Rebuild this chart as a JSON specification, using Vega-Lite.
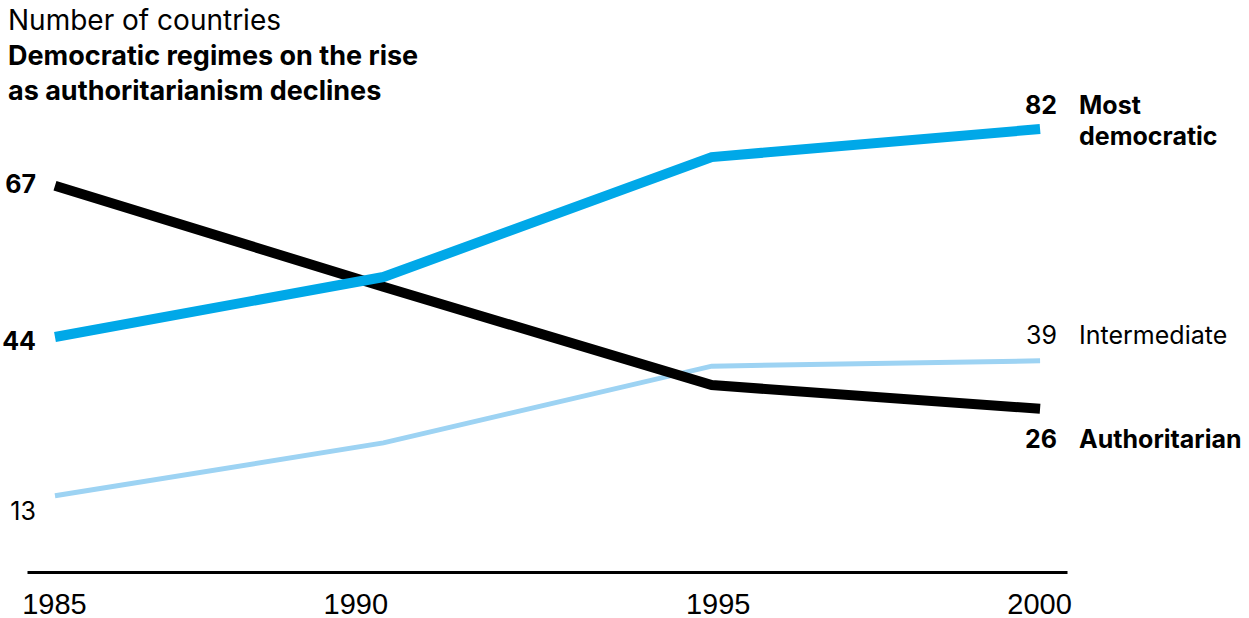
{
  "$schema": "https://vega.github.io/schema/vega-lite/v6.json",
  "width": 1040,
  "height": 470,
  "autosize": {"type": "none"},
  "padding": {"left": 27, "top": 102, "right": 182, "bottom": 46},
  "background": "white",
  "config": {"view": {"stroke": null}, "font": "Inter"},
  "title": {
    "text": "Number of countries",
    "subtitle": ["Democratic regimes on the rise", "as authoritarianism declines"],
    "anchor": "start",
    "frame": "group",
    "dx": -19,
    "offset": -11,
    "font": "Inter",
    "fontSize": 28,
    "fontWeight": "normal",
    "color": "black",
    "subtitleFont": "Inter",
    "subtitleFontSize": 27,
    "subtitleFontWeight": "bold",
    "subtitleColor": "black",
    "subtitleLineHeight": 35,
    "subtitlePadding": 8
  },
  "data": {
    "values": [
      {"series": "Most democratic", "year": 1985, "value": 43.5, "label": "44"},
      {"series": "Most democratic", "year": 1990, "value": 54.6},
      {"series": "Most democratic", "year": 1995, "value": 76.8},
      {"series": "Most democratic", "year": 2000, "value": 82.0, "label": "82"},
      {"series": "Intermediate", "year": 1985, "value": 14.1, "label": "13"},
      {"series": "Intermediate", "year": 1990, "value": 23.9},
      {"series": "Intermediate", "year": 1995, "value": 38.1},
      {"series": "Intermediate", "year": 2000, "value": 39.1, "label": "39"},
      {"series": "Authoritarian", "year": 1985, "value": 71.5, "label": "67"},
      {"series": "Authoritarian", "year": 1990, "value": 52.8},
      {"series": "Authoritarian", "year": 1995, "value": 34.6},
      {"series": "Authoritarian", "year": 2000, "value": 30.2, "label": "26"}
    ]
  },
  "encoding": {
    "x": {
      "field": "year",
      "type": "quantitative",
      "scale": {"domain": [1984.574, 2000.41], "nice": false, "zero": false},
      "axis": {
        "values": [1985, 1990, 1995, 2000],
        "format": "d",
        "title": null,
        "grid": false,
        "ticks": false,
        "tickSize": 0,
        "domainColor": "black",
        "domainWidth": 3,
        "labelFont": "Liberation Sans Narrow, Liberation Sans",
        "labelFontSize": 29,
        "labelColor": "black",
        "labelPadding": 18,
        "labelFlush": false,
        "labelOffset": {"condition": [{"test": "datum.value == 1990", "value": -28}, {"test": "datum.value == 1995", "value": 6}], "value": -1}
      }
    },
    "y": {
      "field": "value",
      "type": "quantitative",
      "scale": {"domain": [0, 87], "nice": false, "zero": true},
      "axis": null
    }
  },
  "layer": [
    {
      "transform": [{"filter": "datum.series == 'Intermediate'"}],
      "mark": {"type": "line", "color": "#9dd3f3", "strokeWidth": 5, "strokeCap": "butt", "strokeJoin": "miter"}
    },
    {
      "transform": [{"filter": "datum.series == 'Authoritarian'"}],
      "mark": {"type": "line", "color": "#000000", "strokeWidth": 10, "strokeCap": "butt", "strokeJoin": "miter"}
    },
    {
      "transform": [{"filter": "datum.series == 'Most democratic'"}],
      "mark": {"type": "line", "color": "#00a8e8", "strokeWidth": 10, "strokeCap": "butt", "strokeJoin": "miter"}
    },
    {
      "transform": [{"filter": "datum.series == 'Authoritarian' && datum.year == 1985"}],
      "mark": {"type": "text", "align": "right", "baseline": "alphabetic", "dx": -19, "dy": 7, "font": "Inter", "fontSize": 25, "fontWeight": "bold", "color": "black"},
      "encoding": {"text": {"field": "label"}}
    },
    {
      "transform": [{"filter": "datum.series == 'Most democratic' && datum.year == 1985"}],
      "mark": {"type": "text", "align": "right", "baseline": "alphabetic", "dx": -19, "dy": 13, "font": "Inter", "fontSize": 25, "fontWeight": "bold", "color": "black"},
      "encoding": {"text": {"field": "label"}}
    },
    {
      "transform": [{"filter": "datum.series == 'Intermediate' && datum.year == 1985"}],
      "mark": {"type": "text", "align": "right", "baseline": "alphabetic", "dx": -19, "dy": 24, "font": "Inter", "fontSize": 25, "fontWeight": "normal", "color": "black"},
      "encoding": {"text": {"field": "label"}}
    },
    {
      "transform": [{"filter": "datum.series == 'Most democratic' && datum.year == 2000"}],
      "mark": {"type": "text", "align": "right", "baseline": "alphabetic", "dx": 17, "dy": -15, "font": "Inter", "fontSize": 25, "fontWeight": "bold", "color": "black"},
      "encoding": {"text": {"field": "label"}}
    },
    {
      "transform": [{"filter": "datum.series == 'Most democratic' && datum.year == 2000"}],
      "mark": {"type": "text", "align": "left", "baseline": "alphabetic", "dx": 39, "dy": -15, "font": "Inter", "fontSize": 25, "fontWeight": "bold", "color": "black", "lineBreak": " ", "lineHeight": 31},
      "encoding": {"text": {"field": "series"}}
    },
    {
      "transform": [{"filter": "datum.series == 'Intermediate' && datum.year == 2000"}],
      "mark": {"type": "text", "align": "right", "baseline": "alphabetic", "dx": 17, "dy": -17, "font": "Inter", "fontSize": 25, "fontWeight": "normal", "color": "black"},
      "encoding": {"text": {"field": "label"}}
    },
    {
      "transform": [{"filter": "datum.series == 'Intermediate' && datum.year == 2000"}],
      "mark": {"type": "text", "align": "left", "baseline": "alphabetic", "dx": 39, "dy": -17, "font": "Inter", "fontSize": 25, "fontWeight": "normal", "color": "black"},
      "encoding": {"text": {"field": "series"}}
    },
    {
      "transform": [{"filter": "datum.series == 'Authoritarian' && datum.year == 2000"}],
      "mark": {"type": "text", "align": "right", "baseline": "alphabetic", "dx": 17, "dy": 39, "font": "Inter", "fontSize": 25, "fontWeight": "bold", "color": "black"},
      "encoding": {"text": {"field": "label"}}
    },
    {
      "transform": [{"filter": "datum.series == 'Authoritarian' && datum.year == 2000"}],
      "mark": {"type": "text", "align": "left", "baseline": "alphabetic", "dx": 39, "dy": 39, "font": "Inter", "fontSize": 25, "fontWeight": "bold", "color": "black"},
      "encoding": {"text": {"field": "series"}}
    }
  ]
}
